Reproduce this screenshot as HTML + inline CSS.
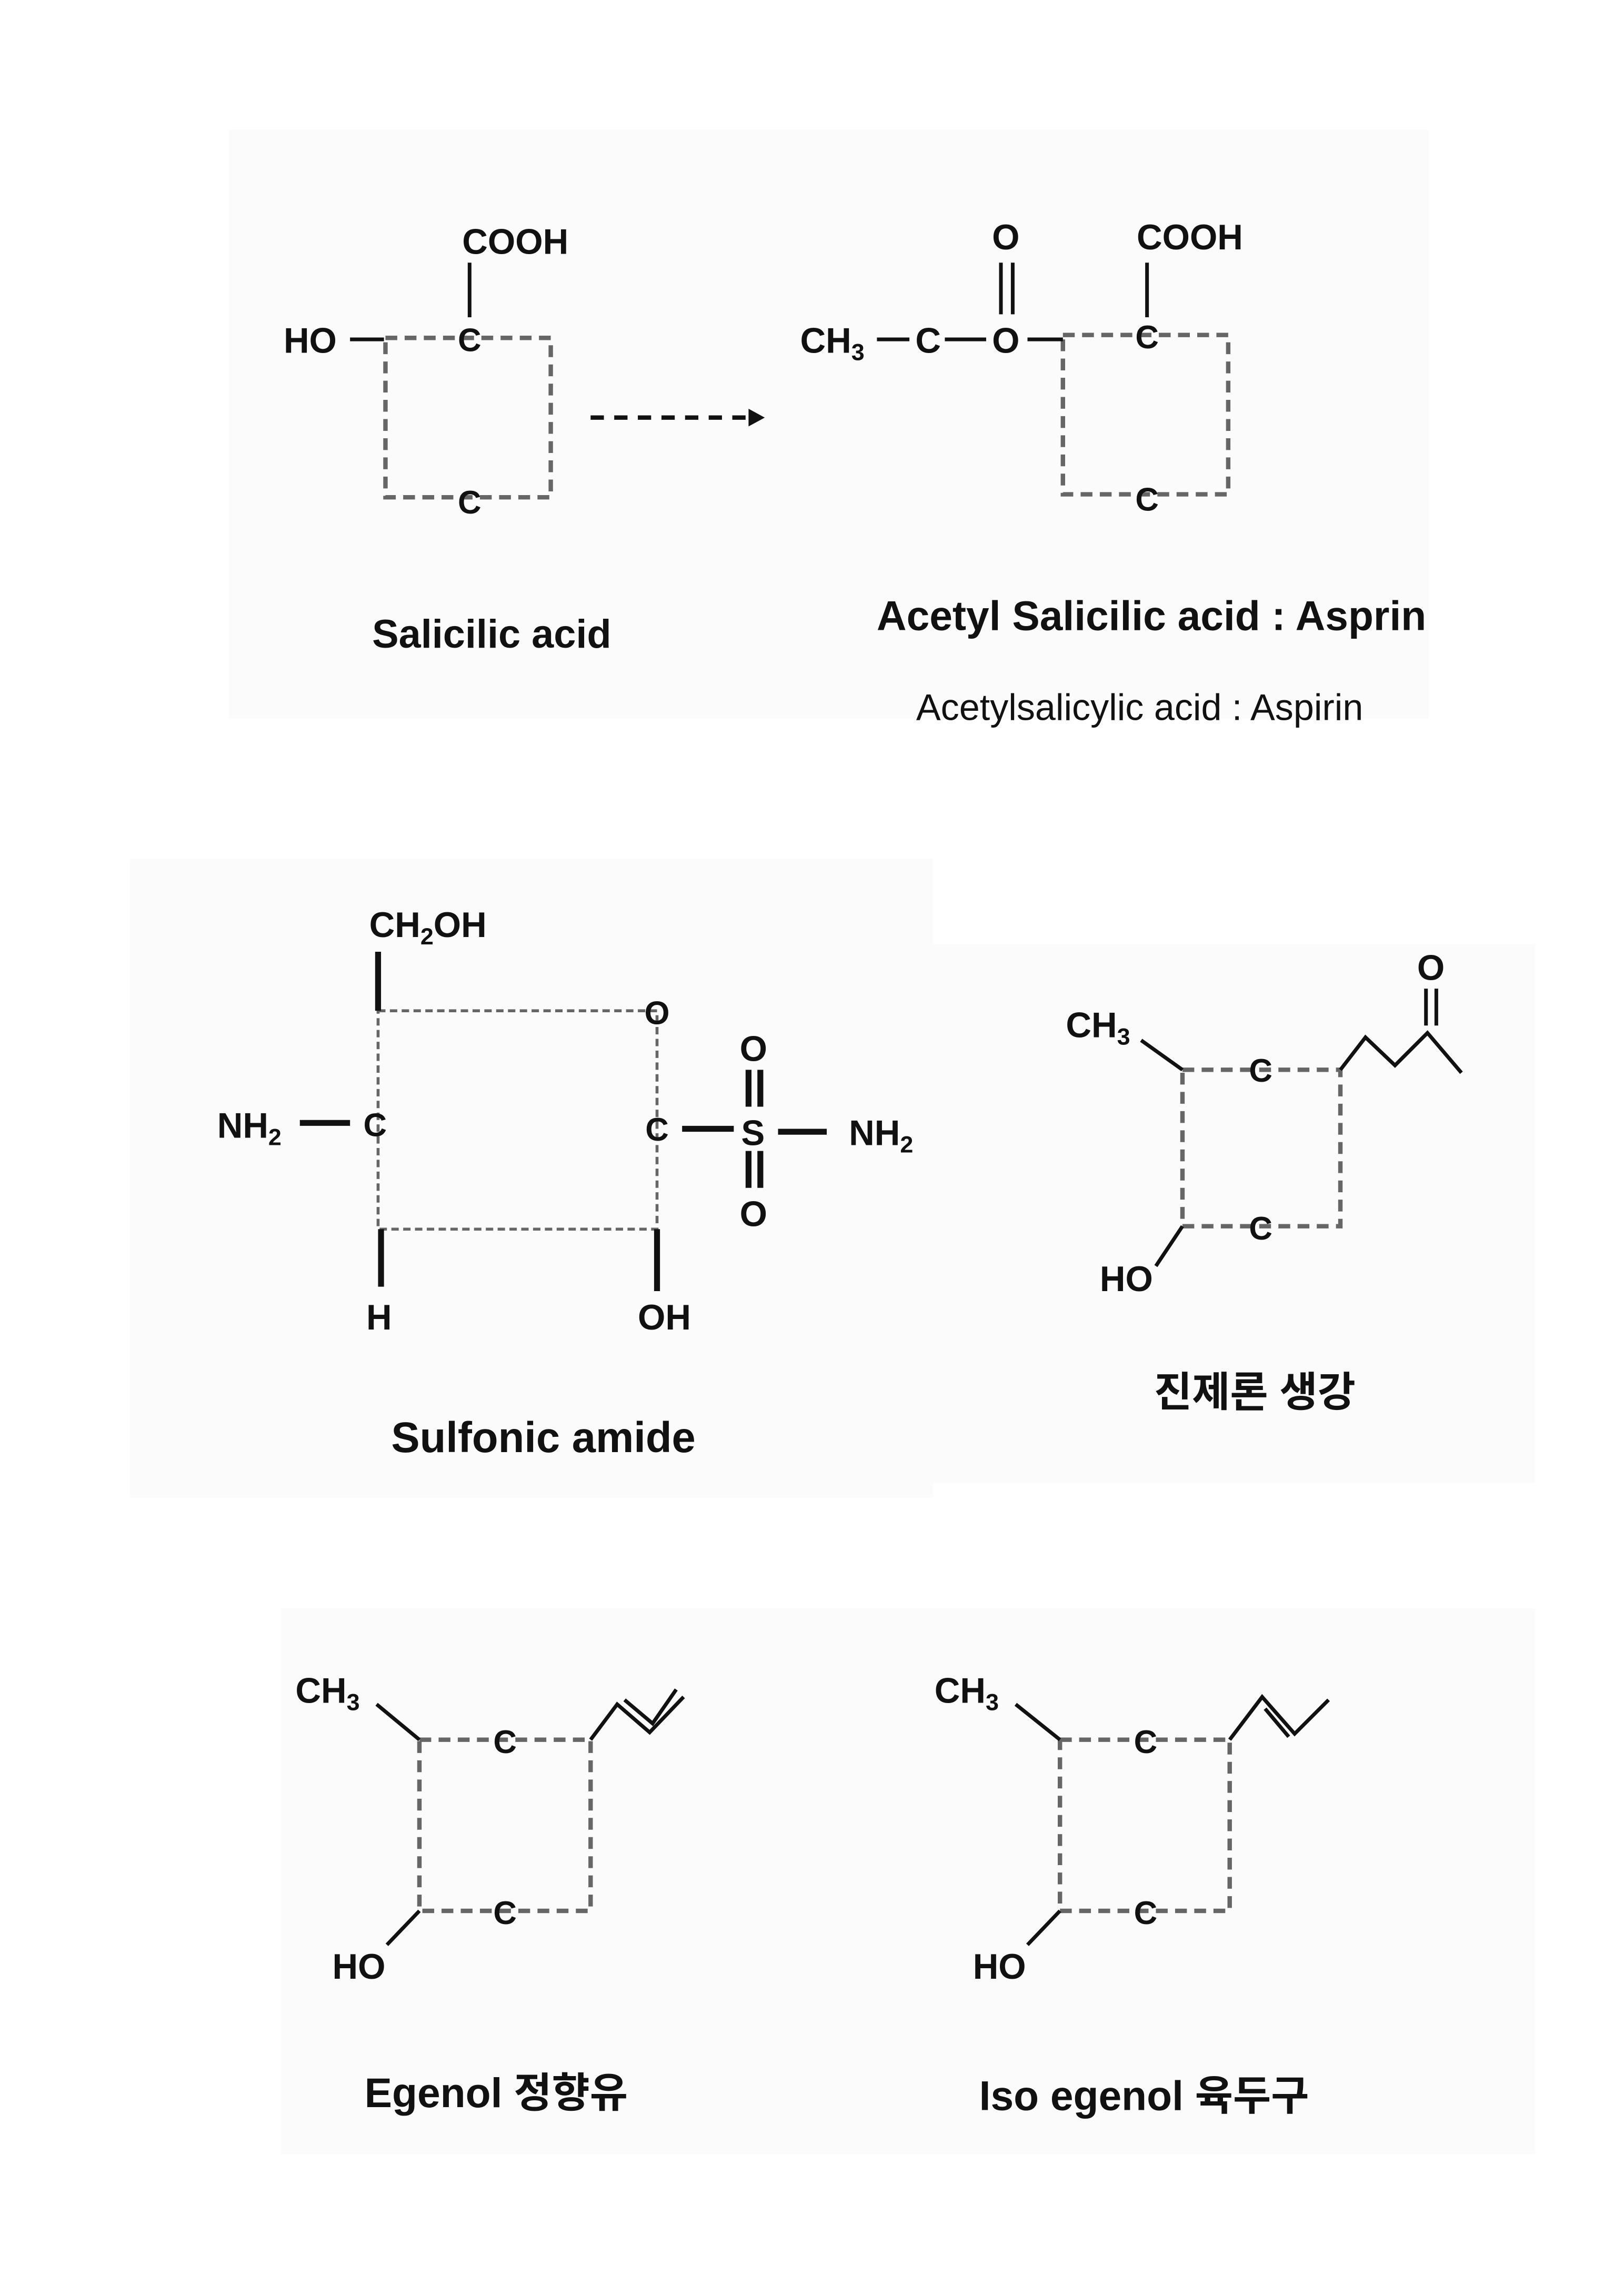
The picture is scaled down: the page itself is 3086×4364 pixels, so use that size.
<!DOCTYPE html>
<html><head><meta charset="utf-8"><style>
html,body{margin:0;padding:0;background:#fff}
svg{display:block}
text{font-family:"Liberation Sans","Noto Sans CJK KR",sans-serif;fill:#111}
.b{font-weight:bold}
</style></head><body>
<svg width="3086" height="4364" viewBox="0 0 1100 1556" xmlns="http://www.w3.org/2000/svg">
<rect width="1100" height="1556" fill="#fff"/>
<rect x="155" y="88" width="813" height="399" fill="#fbfbfb"/>
<rect x="88" y="582" width="544" height="433" fill="#fbfbfb"/>
<rect x="632" y="640" width="408" height="365" fill="#fbfbfb"/>
<rect x="190" y="1090" width="850" height="370" fill="#fbfbfb"/>

<g fill="none" stroke="#666" stroke-width="3" stroke-dasharray="8,5">
<rect x="261" y="229" width="112" height="108"/>
<rect x="720" y="227" width="112" height="108"/>
<rect x="801" y="725" width="107" height="106"/>
<rect x="284" y="1179" width="116" height="116"/>
<rect x="718" y="1179" width="115" height="116"/>
</g>
<g fill="none" stroke="#666" stroke-width="2" stroke-dasharray="5,3">
<rect x="256" y="685" width="189" height="148"/>
</g>
<path d="M400 283 H508" stroke="#111" stroke-width="3" stroke-dasharray="9,7"/>
<path d="M507 277 L518 283 L507 289Z" fill="#111"/>

<g stroke="#111" stroke-width="2.5" fill="none">
<path d="M237 230 H260 M318 178 V215"/>
<path d="M594 230 H616 M640 230 H668 M696 230 H720 M678 178 V213 M686 178 V213 M777 178 V215"/>
<path d="M773 705 L801 725 M801 831 L783 858 M908 725 L925 703 L945 722 L967 700 L990 727 M966 670 V695 M973 670 V695"/>
<path d="M255 1155 L284 1179 M284 1295 L262 1318 M400 1179 L418 1155 L440 1174 L463 1150 M423 1152 L442 1168 L458 1145"/>
<path d="M688 1155 L718 1179 M718 1295 L696 1318 M833 1179 L855 1150 L877 1175 L900 1152 M857 1158 L873 1177"/>
</g>
<g stroke="#111" stroke-width="4" fill="none">
<path d="M256 645 V685 M203 761 H237 M462 765 H497 M527 767 H560 M258 833 V872 M445 833 V875"/>
<path d="M507 725 V750 M515 725 V750 M507 780 V805 M515 780 V805"/>
</g>

<g class="b" font-size="22" text-anchor="middle">
<text x="318" y="238">C</text><text x="318" y="348">C</text>
<text x="777" y="236">C</text><text x="777" y="346">C</text>
<text x="445" y="694">O</text><text x="254" y="770">C</text><text x="445" y="773">C</text>
<text x="854" y="733">C</text><text x="854" y="840">C</text>
<text x="342" y="1188">C</text><text x="342" y="1304">C</text>
<text x="776" y="1188">C</text><text x="776" y="1304">C</text>
</g>
<g class="b" font-size="24">
<text x="192" y="239">HO</text>
<text x="313" y="172">COOH</text>
<text x="542" y="239">CH<tspan font-size="16" dy="5">3</tspan></text>
<text x="620" y="239">C</text>
<text x="672" y="239">O</text>
<text x="672" y="169">O</text>
<text x="770" y="169">COOH</text>
<text x="250" y="635">CH<tspan font-size="16" dy="5">2</tspan><tspan dy="-5">OH</tspan></text>
<text x="147" y="771">NH<tspan font-size="16" dy="5">2</tspan></text>
<text x="502" y="776">S</text>
<text x="575" y="776">NH<tspan font-size="16" dy="5">2</tspan></text>
<text x="501" y="719">O</text><text x="501" y="831">O</text>
<text x="248" y="901">H</text><text x="432" y="901">OH</text>
<text x="722" y="703">CH<tspan font-size="16" dy="5">3</tspan></text>
<text x="960" y="664">O</text>
<text x="745" y="875">HO</text>
<text x="200" y="1154">CH<tspan font-size="16" dy="5">3</tspan></text>
<text x="225" y="1341">HO</text>
<text x="633" y="1154">CH<tspan font-size="16" dy="5">3</tspan></text>
<text x="659" y="1341">HO</text>
</g>
<g class="b" text-anchor="middle">
<text x="333" y="439" font-size="27">Salicilic acid</text>
<text x="780" y="427" font-size="28">Acetyl Salicilic acid : Asprin</text>
<text x="368" y="984" font-size="29">Sulfonic amide</text>
<text x="850" y="953" font-size="28">진제론 생강</text>
<text x="336" y="1428" font-size="28">Egenol 정향유</text>
<text x="775" y="1430" font-size="28">Iso egenol 육두구</text>
</g>
<text x="772" y="488" font-size="25" text-anchor="middle">Acetylsalicylic acid : Aspirin</text>
</svg>
</body></html>
